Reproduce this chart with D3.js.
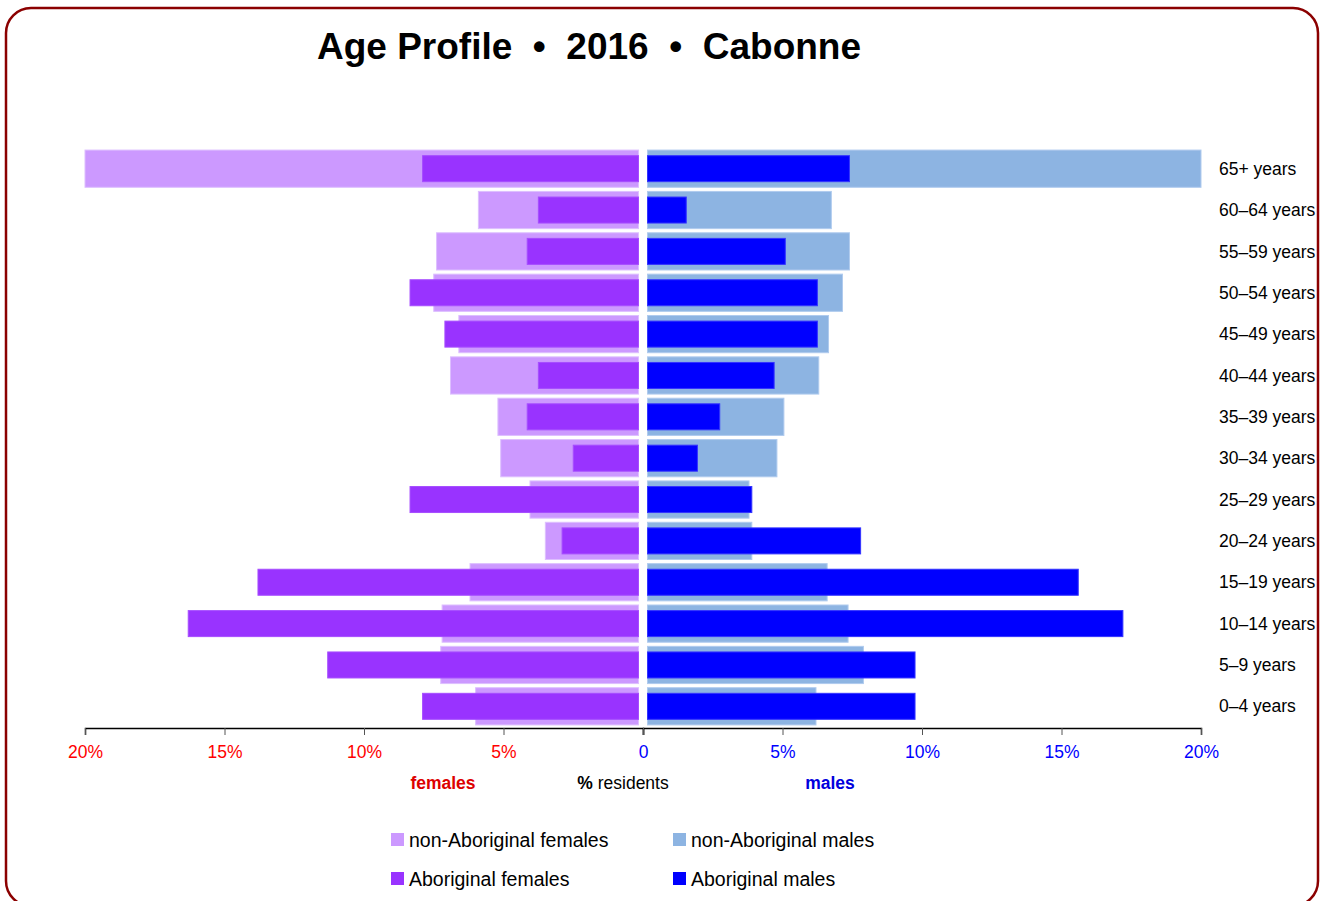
<!DOCTYPE html>
<html>
<head>
<meta charset="utf-8">
<script src="https://cdn.jsdelivr.net/npm/d3@7"></script>
<style>
  body { margin: 0; background: #fff; }
  svg { display: block; font-family: "Liberation Sans", Arial, sans-serif; }
</style>
</head>
<body>
<div class="pyramid"></div>
<script>
// age groups, top to bottom
var categories = ["65+ years", "60–64 years", "55–59 years", "50–54 years", "45–49 years",
    "40–44 years", "35–39 years", "30–34 years", "25–29 years", "20–24 years",
    "15–19 years", "10–14 years", "5–9 years", "0–4 years"];

// % of residents
var nonAbFemales = [20.0, 5.9, 7.4, 7.5, 6.6, 6.9, 5.2, 5.1, 4.05, 3.5, 6.2, 7.2, 7.25, 6.0];
var abFemales    = [7.9, 3.75, 4.15, 8.35, 7.1, 3.75, 4.15, 2.5, 8.35, 2.9, 13.8, 16.3, 11.3, 7.9];
var nonAbMales   = [20.0, 6.75, 7.4, 7.15, 6.65, 6.3, 5.05, 4.8, 3.8, 3.9, 6.6, 7.35, 7.9, 6.2];
var abMales      = [7.4, 1.55, 5.1, 6.25, 6.25, 4.7, 2.75, 1.95, 3.9, 7.8, 15.6, 17.2, 9.75, 9.75];

var leftTicks  = [20, 15, 10, 5];
var rightTicks = [0, 5, 10, 15, 20];

var legendItems = [
    {label: "non-Aboriginal females", color: "#cc99ff"},
    {label: "non-Aboriginal males",   color: "#8db4e2"},
    {label: "Aboriginal females",     color: "#9933ff"},
    {label: "Aboriginal males",       color: "#0000ff"}
];

var W = 1326, H = 901;
var zeroX = 643, gap = 4.5;

var svg = d3.select(".pyramid")
    .append("svg")
    .attr("width", W)
    .attr("height", H);

// frame
svg.append("rect")
    .attr("x", 6).attr("y", 8)
    .attr("width", 1312).attr("height", 898)
    .attr("rx", 25).attr("ry", 25)
    .attr("fill", "none")
    .attr("stroke", "#8b0000")
    .attr("stroke-width", 2.5);

svg.append("text")
    .attr("x", 589).attr("y", 59)
    .attr("text-anchor", "middle")
    .style("font-size", "37px")
    .style("font-weight", "bold")
    .style("white-space", "pre")
    .text("Age Profile  \u2022  2016  \u2022  Cabonne");

var xF = d3.scaleLinear().domain([0, 20]).range([zeroX, 85]).clamp(true);
var xM = d3.scaleLinear().domain([0, 20]).range([zeroX, 1201]).clamp(true);

var y = d3.scaleBand()
    .domain(categories)
    .range([148, 727])
    .paddingInner(0.1)
    .paddingOuter(0.05);

var innerH = 26;

function drawSide(values, xs, sign, fill, stroke, h)
{
    svg.append("g").selectAll("rect")
        .data(values)
        .enter()
        .append("rect")
        .attr("x", function (d) { return sign < 0 ? xs(d) : zeroX + gap; })
        .attr("width", function (d) { return Math.max(0, Math.abs(xs(d) - zeroX) - gap); })
        .attr("y", function (d, i) { return y(categories[i]) + (y.bandwidth() - h) / 2; })
        .attr("height", h)
        .attr("fill", fill)
        .attr("stroke", stroke)
        .attr("stroke-width", 1);
}

drawSide(nonAbFemales, xF, -1, "#cc99ff", "#ddbfff", y.bandwidth());
drawSide(nonAbMales,   xM,  1, "#8db4e2", "#b0cbee", y.bandwidth());
drawSide(abFemales,    xF, -1, "#9933ff", "#a64dff", innerH);
drawSide(abMales,      xM,  1, "#0000ff", "#3333ff", innerH);

// age labels
svg.append("g").selectAll("text")
    .data(categories)
    .enter()
    .append("text")
    .attr("x", 1219)
    .attr("y", function (d) { return y(d) + y.bandwidth() / 2; })
    .attr("dy", "0.35em")
    .style("font-size", "17.5px")
    .text(function (d) { return d; });

function fmt(d) { return d === 0 ? "0" : d + "%"; }

var axisY = 728;
var leftAxis = svg.append("g")
    .attr("transform", "translate(0," + axisY + ")")
    .call(d3.axisBottom(xF).tickValues(leftTicks).tickFormat(fmt).tickSizeOuter(0).tickSize(7));
var rightAxis = svg.append("g")
    .attr("transform", "translate(0," + axisY + ")")
    .call(d3.axisBottom(xM).tickValues(rightTicks).tickFormat(fmt).tickSizeOuter(0).tickSize(7));

[leftAxis, rightAxis].forEach(function (a, k)
{
    a.select(".domain").attr("stroke", "#000").attr("stroke-width", 1.5);
    a.selectAll(".tick line").attr("stroke", "#555");
    a.selectAll(".tick text")
        .attr("y", 18)
        .style("font-family", "'Liberation Sans', Arial, sans-serif")
        .style("font-size", "17.5px")
        .attr("fill", k === 0 ? "#ff0000" : "#0000ff");
});

svg.append("text")
    .attr("x", 443).attr("y", 789)
    .attr("text-anchor", "middle")
    .style("font-size", "17.5px").style("font-weight", "bold")
    .attr("fill", "#dd0000")
    .text("females");

svg.append("text")
    .attr("x", 830).attr("y", 789)
    .attr("text-anchor", "middle")
    .style("font-size", "17.5px").style("font-weight", "bold")
    .attr("fill", "#0000dd")
    .text("males");

var res = svg.append("text")
    .attr("x", 623).attr("y", 789)
    .attr("text-anchor", "middle")
    .style("font-size", "17.5px");
res.append("tspan").style("font-weight", "bold").text("%");
res.append("tspan").text(" residents");

// legend
var leg = svg.append("g").selectAll("g")
    .data(legendItems)
    .enter()
    .append("g")
    .attr("transform", function (d, i)
    {
        return "translate(" + (i % 2 === 0 ? 391 : 673) + "," + (i < 2 ? 840 : 879) + ")";
    });

leg.append("rect")
    .attr("x", 0).attr("y", -7)
    .attr("width", 13).attr("height", 13)
    .attr("fill", function (d) { return d.color; });

leg.append("text")
    .attr("x", 18).attr("y", 0)
    .attr("dy", "0.35em")
    .style("font-size", "19.5px")
    .text(function (d) { return d.label; });
</script>
</body>
</html>
